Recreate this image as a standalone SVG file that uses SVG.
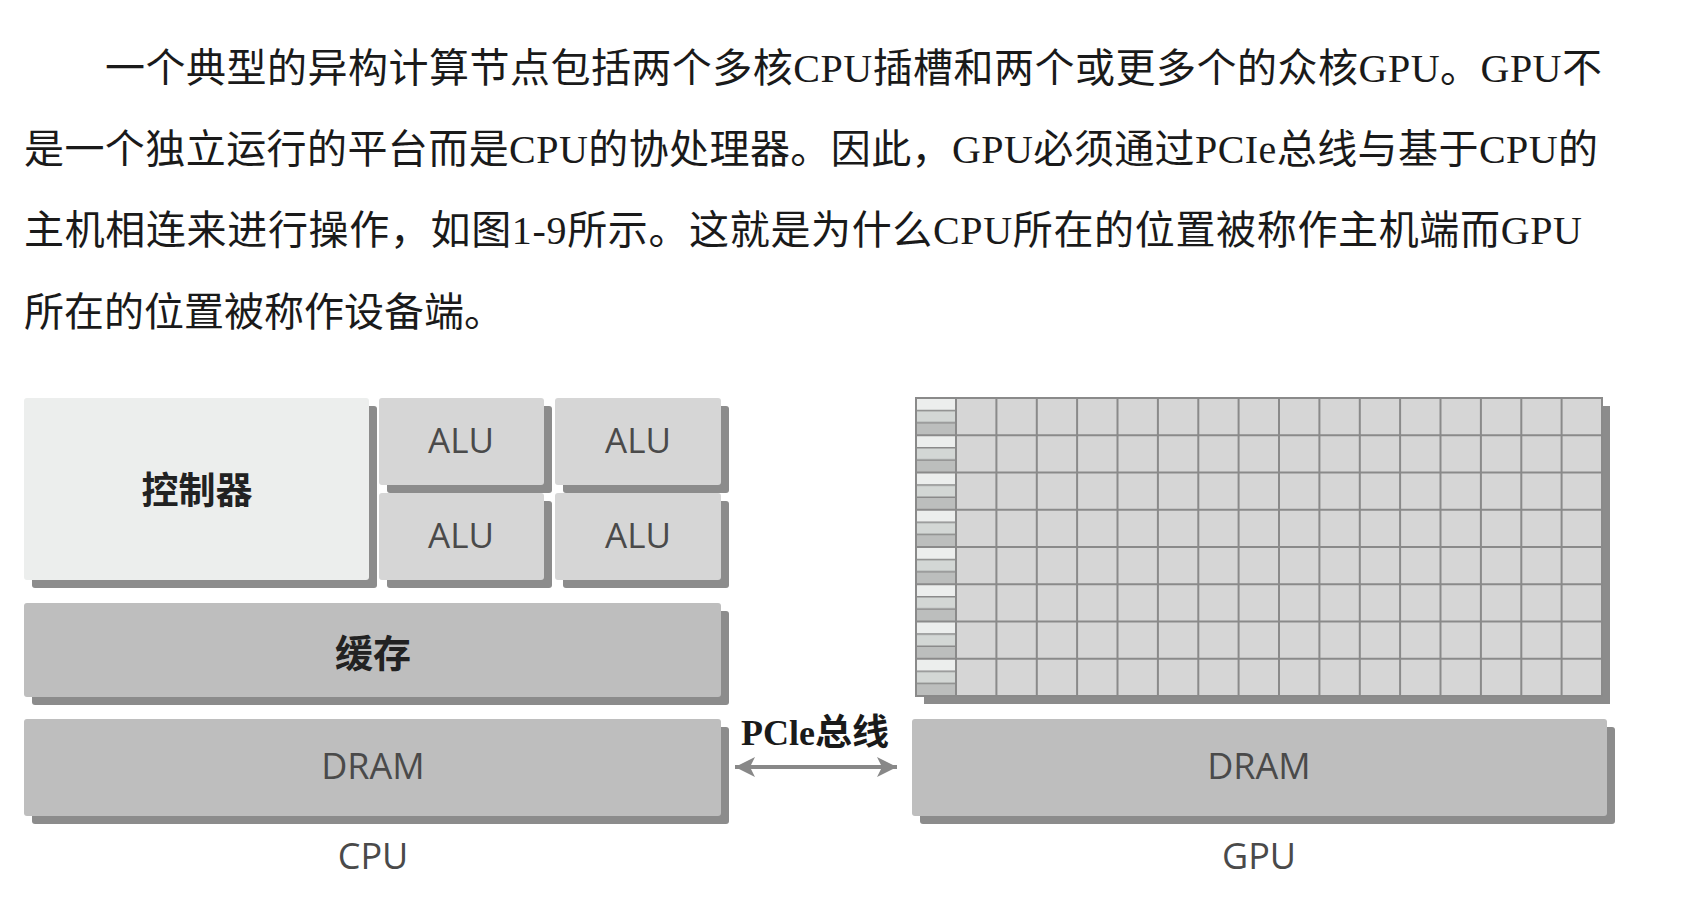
<svg xmlns="http://www.w3.org/2000/svg" width="1691" height="899" viewBox="0 0 1691 899">
  <style>
    .para { font-family: "Liberation Serif", "Noto Sans CJK SC", serif; font-size: 40px; fill: #1a1a1a; }
    .shadow { fill: #8c8c8c; }
    .ctrl { fill: #eceeed; }
    .alu { fill: #d6d6d6; }
    .mem { fill: #bebebe; }
    .lbl { font-family: "Open Sans", "Noto Sans", sans-serif; fill: #4a4a4a; text-anchor: middle; }
    .cjk { font-family: "Noto Sans CJK SC", sans-serif; font-weight: bold; fill: #222222; text-anchor: middle; }
    .grid { fill: none; stroke: #8a8a8a; stroke-width: 2; }
  </style>
  <defs>
    <marker id="head" viewBox="0 0 20 20" refX="20" refY="10" markerWidth="20" markerHeight="20" markerUnits="userSpaceOnUse" orient="auto-start-reverse">
      <path d="M0,0 L20,10 L0,20 L5,10 Z" fill="#888888"/>
    </marker>
    <pattern id="stripes" patternUnits="userSpaceOnUse" x="916" y="398" width="40" height="37.25">
      <rect width="40" height="12.4" fill="#eceeed"/>
      <rect y="12.4" width="40" height="12.4" fill="#d3d7d5"/>
      <rect y="24.8" width="40" height="12.45" fill="#bcbebd"/>
      <path d="M0,12.4H40M0,24.8H40" stroke="#8a8a8a" stroke-width="1.5"/>
    </pattern>
  </defs>
  <rect width="1691" height="899" fill="#ffffff"/>

  <g id="paragraph">
    <text class="para" x="105" y="82" textLength="1497" lengthAdjust="spacing">一个典型的异构计算节点包括两个多核CPU插槽和两个或更多个的众核GPU。GPU不</text>
    <text class="para" x="24" y="163" textLength="1574" lengthAdjust="spacing">是一个独立运行的平台而是CPU的协处理器。因此，GPU必须通过PCIe总线与基于CPU的</text>
    <text class="para" x="24" y="244" textLength="1558" lengthAdjust="spacing">主机相连来进行操作，如图1-9所示。这就是为什么CPU所在的位置被称作主机端而GPU</text>
    <text class="para" x="24" y="326">所在的位置被称作设备端。</text>
  </g>

  <g id="cpu-controller">
    <rect class="shadow" x="32" y="406" width="345" height="182" rx="3"/>
    <rect class="ctrl" x="24" y="398" width="345" height="182" rx="3"/>
    <text class="cjk" x="197" y="504" font-size="37">控制器</text>
  </g>
  <g id="alu-1">
    <rect class="shadow" x="387" y="406" width="165" height="87" rx="3"/>
    <rect class="alu" x="379" y="398" width="165" height="87" rx="3"/>
    <text class="lbl" x="461" y="453" font-size="35">ALU</text>
  </g>
  <g id="alu-2">
    <rect class="shadow" x="563" y="406" width="166" height="87" rx="3"/>
    <rect class="alu" x="555" y="398" width="166" height="87" rx="3"/>
    <text class="lbl" x="638" y="453" font-size="35">ALU</text>
  </g>
  <g id="alu-3">
    <rect class="shadow" x="387" y="501" width="165" height="87" rx="3"/>
    <rect class="alu" x="379" y="493" width="165" height="87" rx="3"/>
    <text class="lbl" x="461" y="548" font-size="35">ALU</text>
  </g>
  <g id="alu-4">
    <rect class="shadow" x="563" y="501" width="166" height="87" rx="3"/>
    <rect class="alu" x="555" y="493" width="166" height="87" rx="3"/>
    <text class="lbl" x="638" y="548" font-size="35">ALU</text>
  </g>
  <g id="cpu-cache">
    <rect class="shadow" x="32" y="611" width="697" height="94" rx="3"/>
    <rect class="mem" x="24" y="603" width="697" height="94" rx="3"/>
    <text class="cjk" x="373" y="667" font-size="38">缓存</text>
  </g>
  <g id="cpu-dram">
    <rect class="shadow" x="32" y="727" width="697" height="97" rx="3"/>
    <rect class="mem" x="24" y="719" width="697" height="97" rx="3"/>
    <text class="lbl" x="373" y="779" font-size="36">DRAM</text>
  </g>
  <g id="cpu-label">
    <text class="lbl" x="373" y="869" font-size="36">CPU</text>
  </g>

  <g id="gpu-cores">
    <rect class="shadow" x="924" y="406" width="686" height="298"/>
    <rect x="916" y="398" width="686" height="298" fill="#d6d6d6"/>
    <rect x="916" y="398" width="40" height="298" fill="url(#stripes)"/>
    <path class="grid" d="M956,398V696 M996.4,398V696 M1036.8,398V696 M1077.1,398V696 M1117.5,398V696 M1157.9,398V696 M1198.3,398V696 M1238.6,398V696 M1279,398V696 M1319.4,398V696 M1359.8,398V696 M1400.1,398V696 M1440.5,398V696 M1480.9,398V696 M1521.3,398V696 M1561.6,398V696 M916,435.25H1602 M916,472.5H1602 M916,509.75H1602 M916,547H1602 M916,584.25H1602 M916,621.5H1602 M916,658.75H1602"/>
    <rect class="grid" x="916" y="398" width="686" height="298"/>
  </g>
  <g id="gpu-dram">
    <rect class="shadow" x="920" y="727" width="695" height="97" rx="3"/>
    <rect class="mem" x="912" y="719" width="695" height="97" rx="3"/>
    <text class="lbl" x="1259" y="779" font-size="36">DRAM</text>
  </g>
  <g id="gpu-label">
    <text class="lbl" x="1259" y="869" font-size="36">GPU</text>
  </g>

  <g id="connectors">
    <line x1="735" y1="767" x2="897" y2="767" stroke="#888888" stroke-width="4" marker-start="url(#head)" marker-end="url(#head)"/>
    <text x="741" y="745" textLength="148" lengthAdjust="spacingAndGlyphs" fill="#1a1a1a" font-weight="bold"><tspan font-family="Liberation Serif, serif" font-size="35">PCle</tspan><tspan font-family="Noto Sans CJK SC, sans-serif" font-size="36">总线</tspan></text>
  </g>
</svg>
